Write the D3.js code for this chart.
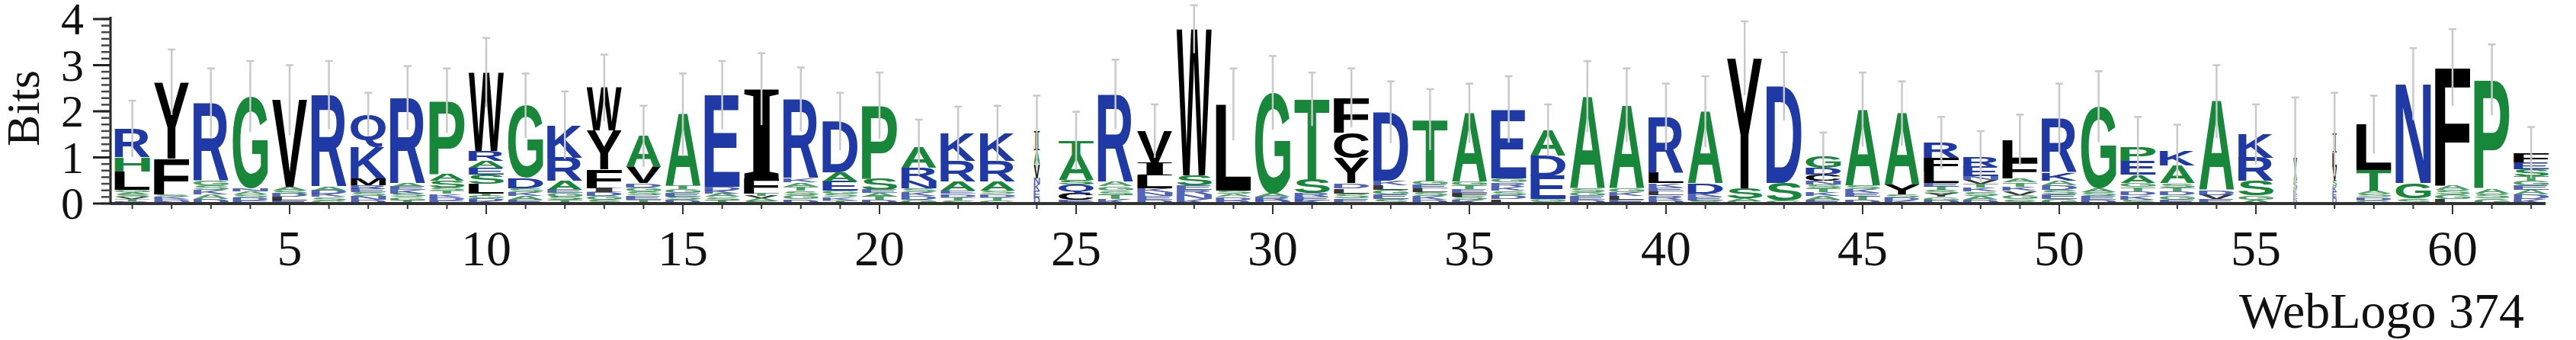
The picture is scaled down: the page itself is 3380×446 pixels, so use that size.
<!DOCTYPE html>
<html><head><meta charset="utf-8">
<script src="https://cdn.jsdelivr.net/npm/d3@7"></script>
<style>body{margin:0;background:#fff}svg{display:block}</style>
</head><body><svg id="c" width="3380" height="446"></svg>
<script>
// ---------- DATA ----------
const positions = d3.range(1, 63);
const xTickLabels = [5,10,15,20,25,30,35,40,45,50,55,60];
const yTickLabels = [0,1,2,3,4];
// main letters, bottom -> top, and their heights in bits
const mainLetters = ["LHR","FY","R","G","V","R","MKQ","R","SAP","LSEARW",
 "DG","ARK","FYW","VA","A","E","FI","R","EAD","SP",
 "NRA","ARK","ARK","VAI","CQSAT","R","LIV","SW","L","G",
 "ST","YCF","D","T","A","E","EDA","A","A","LR",
 "DA","SY","SD","CDG","A","YA","LFR","ER","FL","KR",
 "G","AEP","AK","A","SRK","SAV","VLI","TL","GN","F",
 "P","SEF"];
const mainHeights = [[0.4,0.3,0.62],[0.77,1.66],[1.68],[1.99],[1.88],[1.99],[0.15,0.68,0.7],[1.85],[0.15,0.15,1.58],[0.2,0.2,0.15,0.15,0.22,1.7],
 [0.22,1.57],[0.2,0.5,0.7],[0.41,0.85,0.92],[0.35,0.67],[1.55],[1.99],[0.33,1.93],[1.71],[0.2,0.2,1.1],[0.25,1.57],
 [0.17,0.28,0.44],[0.2,0.44,0.6],[0.2,0.44,0.6],[0.3,0.3,0.4],[0.15,0.18,0.1,0.55,0.3],[1.9],[0.28,0.28,0.68],[0.22,3.17],[1.87],[2.18],
 [0.3,1.74],[0.55,0.55,0.75],[1.49],[1.32],[1.49],[1.49],[0.5,0.44,0.55],[1.99],[1.8],[0.22,1.22],
 [0.22,1.55],[0.22,2.82],[0.38,2.1],[0.12,0.15,0.25],[1.65],[0.2,1.55],[0.25,0.3,0.33],[0.2,0.22],[0.38,0.45],[0.17,1.18],
 [1.77],[0.17,0.3,0.3],[0.38,0.31],[1.93],[0.33,0.5,0.5],[0.2,0.2,0.3],[0.3,0.3,0.4],[0.44,0.99],[0.33,2.15],[2.56],
 [2.35],[0.15,0.15,0.2]];
// small low-information letters at the foot of each stack
const clutterLetters = ["DTVSAG","NDKS","DAKSG","EDSAN","ELDSA","GSKDA","DNSER","TGSKEA","EDKTS","KDGT",
 "EAKS","TSGE","SGDI","TESGD","DSEGT","TSAKD","SAVT","DGSTAK","TKSG","DTAE",
 "GDKS","STDE","GTDS","DEKN","GE","KTSGA","DENK","KNRE","RDAS","DRA",
 "KER","ESLD","SEGLK","DKSLEG","KSFETG","LDSKRG","SG","DEGS","ELKG","DRLEK",
 "SEK","GA","G","EAKTSN","DTEKS","KDS","DGYSTE","DASKTVN","SGVKTA","GESDA",
 "DESA","SKDTG","EGDTS","EVD","AG","DEK","DEKS","GDSA","S","LGSA",
 "GSA","KDAEGT"];
const clutterHeights = [0.3,0.2,0.5,0.33,0.36,0.36,0.4,0.44,0.35,0.22,
 0.33,0.3,0.33,0.44,0.39,0.36,0.22,0.55,0.28,0.3,
 0.33,0.28,0.28,0.55,0.08,0.47,0.33,0.39,0.28,0.22,
 0.22,0.44,0.49,0.5,0.47,0.55,0.1,0.33,0.33,0.44,
 0.22,0.11,0.06,0.5,0.39,0.2,0.44,0.6,0.55,0.5,
 0.33,0.45,0.44,0.28,0.17,0.3,0.5,0.28,0.11,0.39,
 0.33,0.6];
const errorTops = [2.23,3.34,2.93,3.09,3.0,3.09,2.4,2.98,2.93,3.59,
 2.82,2.43,3.23,2.12,2.82,3.09,3.26,2.95,2.4,2.84,
 1.82,2.1,2.12,2.34,1.99,3.12,2.15,4.3,2.93,3.2,
 2.84,2.93,2.65,2.48,2.6,2.76,2.15,3.09,2.93,2.6,
 2.76,3.95,3.28,1.54,2.84,2.65,1.88,1.57,1.93,2.6,
 2.87,1.88,1.71,3.0,2.15,2.3,2.4,2.34,3.37,3.78,
 3.45,1.66];
// fraction of full column width (gap-rich columns are narrow)
const widthFractions = positions.map(p => p === 24 ? 0.17 : p === 56 ? 0.1 : p === 57 ? 0.12 : 1);

// ---------- STYLE ----------
const BLUE = "#1f3aa6", GREEN = "#17873a", BLACK = "#000";
const colorOf = ch => "RKDENQ".includes(ch) ? BLUE : "SGHTAP".includes(ch) ? GREEN : BLACK;
const SANS = "'Liberation Sans', Arial, sans-serif";
const SERIF = "'Liberation Serif', 'Times New Roman', serif";
const fontOf = ch => ch === "I" ? SERIF : SANS;

const svg = d3.select("#c");
const x = d3.scaleLinear().domain([1, 62]).range([173.6, 3321.2]);
const y = d3.scaleLinear().domain([0, 4]).range([267, 25]);
const colW = 46;

// glyph metrics via canvas
const ctx = document.createElement("canvas").getContext("2d");
const metrics = {};
function gm(ch){
  if(!metrics[ch]){
    ctx.font = "bold 200px " + fontOf(ch);
    const m = ctx.measureText(ch);
    metrics[ch] = {l:m.actualBoundingBoxLeft, r:m.actualBoundingBoxRight, a:m.actualBoundingBoxAscent, d:m.actualBoundingBoxDescent};
  }
  return metrics[ch];
}

// build letter records
const glyphs = [];
positions.forEach((p, i) => {
  let base = 0;
  const cl = clutterLetters[i];
  const ch = clutterHeights[i] / cl.length;
  for (const c of cl) { glyphs.push({p, c, b0: base, b1: base + ch, small: true, wf: widthFractions[i]}); base += ch; }
  const ml = mainLetters[i];
  for (let k = 0; k < ml.length; k++) {
    const h = mainHeights[i][k];
    glyphs.push({p, c: ml[k], b0: base, b1: base + h, small: false, wf: widthFractions[i]});
    base += h;
  }
});

const gLetters = svg.append("g");
gLetters.selectAll("text").data(glyphs).join("text")
  .text(d => d.c)
  .attr("font-family", d => fontOf(d.c))
  .attr("font-weight", "bold")
  .attr("font-size", 200)
  .attr("fill", d => colorOf(d.c))
  .attr("fill-opacity", d => d.small ? 0.8 : 1)
  .attr("transform", d => {
    const m = gm(d.c);
    const w = colW * d.wf;
    const x0 = x(d.p) - w / 2;
    const yTop = y(d.b1), yBot = y(d.b0);
    const sx = w / (m.l + m.r), sy = (yBot - yTop) / (m.a + m.d);
    return `translate(${x0},${yTop}) scale(${sx},${sy}) translate(${m.l},${m.a})`;
  });

// error bars
const tops = positions.map((p, i) => clutterHeights[i] + d3.sum(mainHeights[i]));
const gErr = svg.append("g").attr("stroke", "#c9c9c9").attr("stroke-width", 2.5);
gErr.selectAll("line.v").data(positions).join("line").attr("class","v")
  .attr("x1", p => x(p)).attr("x2", p => x(p))
  .attr("y1", (p, i) => y(Math.max(0, 2 * tops[i] - errorTops[i])))
  .attr("y2", (p, i) => y(errorTops[i]));
gErr.selectAll("line.c").data(positions).join("line").attr("class","c")
  .attr("x1", p => x(p) - 5).attr("x2", p => x(p) + 5)
  .attr("y1", (p, i) => y(errorTops[i])).attr("y2", (p, i) => y(errorTops[i]));

// axes
const axisColor = "#222";
svg.append("line").attr("x1", 145).attr("x2", 3340).attr("y1", y(0)).attr("y2", y(0))
  .attr("stroke", "#333").attr("stroke-width", 4);
svg.append("line").attr("x1", 145).attr("x2", 145).attr("y1", y(0)).attr("y2", y(4) - 3)
  .attr("stroke", axisColor).attr("stroke-width", 3);

// y ticks
const minor = d3.range(0, 29).map(k => k / 7).filter(v => v <= 4.001);
svg.append("g").selectAll("line").data(minor).join("line")
  .attr("x1", 133).attr("x2", 145).attr("y1", d => y(d)).attr("y2", d => y(d))
  .attr("stroke", "#444").attr("stroke-width", 2.5);
svg.append("g").selectAll("line").data(yTickLabels).join("line")
  .attr("x1", 122).attr("x2", 145).attr("y1", d => y(d)).attr("y2", d => y(d))
  .attr("stroke", axisColor).attr("stroke-width", 3);
svg.append("g").selectAll("text").data(yTickLabels).join("text")
  .attr("x", 110).attr("y", d => y(d) + 20)
  .attr("text-anchor", "end")
  .attr("font-family", SERIF)
  .attr("font-size", 60).attr("fill", "#111").text(d => d);

// x ticks
svg.append("g").selectAll("line").data(positions).join("line")
  .attr("x1", d => x(d)).attr("x2", d => x(d)).attr("y1", y(0)).attr("y2", d => y(0) + (d % 5 === 0 ? 14 : 7))
  .attr("stroke", "#333").attr("stroke-width", 2);
svg.append("g").selectAll("text").data(xTickLabels).join("text")
  .attr("x", d => x(d)).attr("y", 348)
  .attr("text-anchor", "middle")
  .attr("font-family", SERIF)
  .attr("font-size", 66).attr("fill", "#111").text(d => d);

// axis title and caption
svg.append("text").attr("transform", "translate(51,142) rotate(-90)")
  .attr("text-anchor", "middle")
  .attr("font-family", SERIF)
  .attr("font-size", 62).attr("fill", "#111").text("Bits");
svg.append("text").attr("x", 3312).attr("y", 430).attr("text-anchor", "end")
  .attr("font-family", SERIF)
  .attr("font-size", 66).attr("fill", "#111").text("WebLogo 374");
</script></body></html>
